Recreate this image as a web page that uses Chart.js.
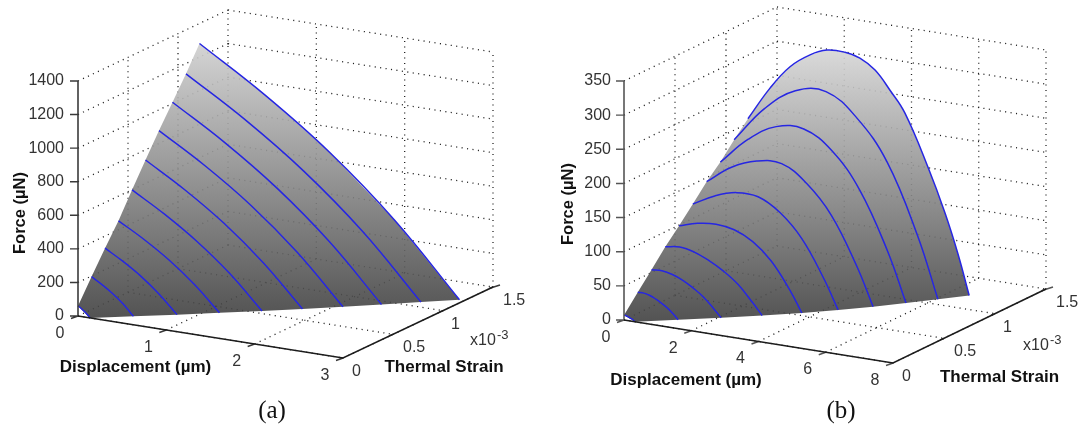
<!DOCTYPE html>
<html><head><meta charset="utf-8">
<style>
html,body{margin:0;padding:0;background:#fff;width:1085px;height:428px;overflow:hidden}
canvas{position:absolute;top:0;filter:blur(.4px)}
</style>
<script src="https://cdn.jsdelivr.net/npm/chart.js@4"></script>
</head><body>
<canvas id="a" width="545" height="428" style="left:0"></canvas>
<canvas id="b" width="540" height="428" style="left:545px"></canvas>
<script>
// ---- data ----
const strainTicks = [0, 0.5, 1, 1.5];
const strainLabels = ['0', '0.5', '1', '1.5'];
const strainLevels = [0, 0.135, 0.27, 0.405, 0.54, 0.675, 0.81, 0.945, 1.08, 1.215];

const aForceTicks = [0, 200, 400, 600, 800, 1000, 1200, 1400];
const aDispTicks = [0, 1, 2, 3];
const aDisp = [
  [0, .034, .068, .102, .136],
  [0, .119, .238, .356, .475],
  [0, .204, .408, .611, .815],
  [0, .286, .572, .857, 1.143],
  [0, .368, .736, 1.104, 1.472],
  [0, .444, .889, 1.333, 1.777],
  [0, .521, 1.042, 1.562, 2.083],
  [0, .592, 1.183, 1.775, 2.366],
  [0, .665, 1.33, 1.995, 2.66],
  [0, .736, 1.472, 2.207, 2.943]
];
const aForce = [
  [60, 49, 35, 19, 0],
  [196, 159, 116, 64, 0],
  [328, 266, 194, 106, 0],
  [453, 367, 267, 146, 0],
  [599, 485, 353, 194, 0],
  [739, 599, 436, 238, 0],
  [876, 710, 517, 283, 0],
  [1007, 816, 594, 325, 0],
  [1138, 922, 671, 368, 0],
  [1281, 1038, 756, 414, 0]
];

const bForceTicks = [0, 50, 100, 150, 200, 250, 300, 350];
const bDispTicks = [0, 2, 4, 6, 8];
const bDisp = [
  [0, .05, .10, .15, .20, .25, .30, .33],
  [0, .18, .36, .54, .72, .90, 1.08, 1.20],
  [0, .31, .62, .93, 1.24, 1.55, 1.86, 2.07],
  [0, .43, .86, 1.30, 1.73, 2.16, 2.59, 2.88],
  [0, .55, 1.10, 1.64, 2.19, 2.74, 3.29, 3.65],
  [0, .65, 1.30, 1.94, 2.59, 3.24, 3.89, 4.32],
  [0, .74, 1.49, 2.23, 2.97, 3.71, 4.46, 4.95],
  [0, .83, 1.66, 2.48, 3.31, 4.14, 4.97, 5.52],
  [0, .91, 1.82, 2.73, 3.64, 4.55, 5.45, 6.06],
  [0, .657, 1.252, 1.847, 2.35, 2.888, 3.33, 3.78, 4.225, 4.67, 5.356, 5.861, 6.247, 6.58]
];
const bForce = [
  [7, 7, 6, 5, 4, 3, 1, 0],
  [31, 31, 29, 25, 20, 14, 6, 0],
  [54, 55, 52, 46, 37, 26, 11, 0],
  [78, 81, 77, 68, 56, 40, 17, 0],
  [99, 107, 110, 106, 93, 69, 31, 0],
  [121, 138, 148, 147, 129, 96, 43, 0],
  [144, 171, 186, 188, 165, 124, 56, 0],
  [163, 203, 228, 231, 206, 155, 72, 0],
  [186, 239, 272, 278, 247, 189, 89, 0],
  [207, 257, 293, 315, 326, 327, 322, 308, 282, 252, 178, 115, 58, 0]
];

// ---- view of each 3-D box (how the axes lie on the page) ----
const panels = [
  {id:'a', left:0, w:545, org:[78,316], dVec:[265/3,14], sVec:[100,-47.33], fUnit:235/1400,
   forceTicks:aForceTicks, dispTicks:aDispTicks, disp:aDisp, force:aForce,
   grad:[43,318,'rgba(208,208,208,.9)','rgba(64,64,64,.9)'], zAxis:'#3a3a3a',
   tickX:14, exp:[470,341], xl:[135.5,367], sl:[444,367], fl:[20,213], cap:['(a)',272,411]},
  {id:'b', left:545, w:540, org:[624-545,320], dVec:[269/8,43/8], sVec:[102,-49.33], fUnit:239/350,
   forceTicks:bForceTicks, dispTicks:bDispTicks, disp:bDisp, force:bForce,
   grad:[50,322,'rgba(214,214,214,.9)','rgba(64,64,64,.9)'], zAxis:'#555',
   tickX:13, exp:[1023-545,346], xl:[686-545,380], sl:[999.5-545,377], fl:[568-545,204], cap:['(b)',841-545,411]}
];

const px = (p,d,s,f) => ({x:p.org[0]+p.dVec[0]*d+p.sVec[0]*s, y:p.org[1]+p.dVec[1]*d+p.sVec[1]*s-p.fUnit*f});
const GAP = {x:NaN,y:NaN};

function build(p){
  const dT=p.dispTicks, fT=p.forceTicks, sT=strainTicks;
  const dM=dT[dT.length-1], sM=sT[sT.length-1], fM=fT[fT.length-1];
  const grid=[];
  const seg=(a,b)=>grid.push(px(p,...a),px(p,...b),GAP);
  fT.forEach(f=>{seg([0,0,f],[0,sM,f]);seg([0,sM,f],[dM,sM,f]);});
  sT.forEach(s=>{seg([0,s,0],[dM,s,0]);if(s>0)seg([0,s,0],[0,s,fM]);});
  dT.forEach(d=>{seg([d,0,0],[d,sM,0]);if(d>0)seg([d,sM,0],[d,sM,fM]);});

  const sets=[];
  sets.push({data:grid,borderColor:'#222',borderWidth:1.3,borderDash:[1.1,4.4],order:5});

  // surface outline: along the d=0 edge, down the last contour, back along F=0
  const outline=[];
  strainLevels.forEach((s,i)=>outline.push(px(p,p.disp[i][0],s,p.force[i][0])));
  const L=strainLevels.length-1;
  p.disp[L].forEach((d,j)=>outline.push(px(p,d,strainLevels[L],p.force[L][j])));
  for(let i=L-1;i>=0;i--){const n=p.disp[i].length-1;outline.push(px(p,p.disp[i][n],strainLevels[i],p.force[i][n]));}
  const g=document.getElementById(p.id).getContext('2d').createLinearGradient(0,p.grad[0],0,p.grad[1]);
  g.addColorStop(0,p.grad[2]);g.addColorStop(1,p.grad[3]);
  sets.push({data:outline,borderWidth:0,borderColor:'transparent',fill:'shape',order:4,backgroundColor:g});

  strainLevels.forEach((s,i)=>sets.push({
    data:p.disp[i].map((d,j)=>px(p,d,s,p.force[i][j])),
    borderColor:'#2626e2',borderWidth:1.5,tension:.4,order:3}));

  const axes=[px(p,0,0,0),px(p,dM,0,0),px(p,dM,sM,0)];
  sets.push({data:axes,borderColor:'#1c1c1c',borderWidth:1.6,order:1});
  sets.push({data:[px(p,0,0,0),px(p,0,0,fM)],borderColor:p.zAxis,borderWidth:1.6,order:1});
  const ticks=[];
  fT.forEach(f=>{const a=px(p,0,0,f);ticks.push(a,{x:a.x-8,y:a.y},GAP);});
  dT.forEach(d=>{const a=px(p,d,0,0);ticks.push(a,{x:a.x-7,y:a.y+2.5},GAP);});
  sT.forEach(s=>{const a=px(p,dM,s,0);ticks.push({x:a.x-4,y:a.y+1.5},{x:a.x+(s===sM?7:0),y:a.y-(s===sM?2:0)},GAP);});
  sets.push({data:ticks,borderColor:p.zAxis,borderWidth:1.4,order:1});
  return sets.map(o=>Object.assign({showLine:true,pointRadius:0,pointHoverRadius:0,clip:false,fill:false},o));
}

const textPlugin=(p)=>({id:'boxText',afterDraw(ch){
  const c=ch.ctx, X=ch.scales.x, Y=ch.scales.y;
  const T=(t,x,y,font,align,color)=>{c.font=font;c.textAlign=align;c.textBaseline='middle';c.fillStyle=color;c.fillText(t,X.getPixelForValue(x),Y.getPixelForValue(y));};
  const tick='16px "Liberation Sans"', bold='bold 17px "Liberation Sans"', col='#333';
  const dT=p.dispTicks, dM=dT[dT.length-1];
  c.save();
  p.forceTicks.forEach(f=>{const a=px(p,0,0,f);T(String(f),a.x-p.tickX,a.y,tick,'right',col);});
  dT.forEach(d=>{const a=px(p,d,0,0);T(String(d),a.x-18,a.y+17.5,tick,'center',col);});
  strainTicks.forEach((s,i)=>{const a=px(p,dM,s,0);T(strainLabels[i],a.x+(i%2?10:9)-(i===2?1:0),a.y+(i===0?14:13.5),tick,'left',col);});
  T('x10',p.exp[0],p.exp[1],tick,'left',col);
  T('-3',p.exp[0]+27,p.exp[1]-6,'13px "Liberation Sans"','left',col);
  T('Displacement (µm)',p.xl[0],p.xl[1],bold,'center','#111');
  T('Thermal Strain',p.sl[0],p.sl[1],bold,'center','#111');
  T(p.cap[0],p.cap[1],p.cap[2],'25px "Liberation Serif"','center','#111');
  c.translate(X.getPixelForValue(p.fl[0]),Y.getPixelForValue(p.fl[1]));
  c.rotate(-Math.PI/2);
  c.font='bold 16.5px "Liberation Sans"';c.textAlign='center';c.textBaseline='middle';c.fillStyle='#111';
  c.fillText('Force (µN)',0,0);
  c.restore();
}});

panels.forEach(p=>{
  new Chart(document.getElementById(p.id),{
    type:'scatter',
    data:{datasets:build(p)},
    options:{
      responsive:false,animation:false,events:[],
      layout:{padding:0},
      plugins:{legend:{display:false},tooltip:{enabled:false}},
      scales:{
        x:{type:'linear',display:false,min:0,max:p.w},
        y:{type:'linear',display:false,min:0,max:428,reverse:true}
      }
    },
    plugins:[textPlugin(p)]
  });
});
</script>
</body></html>
